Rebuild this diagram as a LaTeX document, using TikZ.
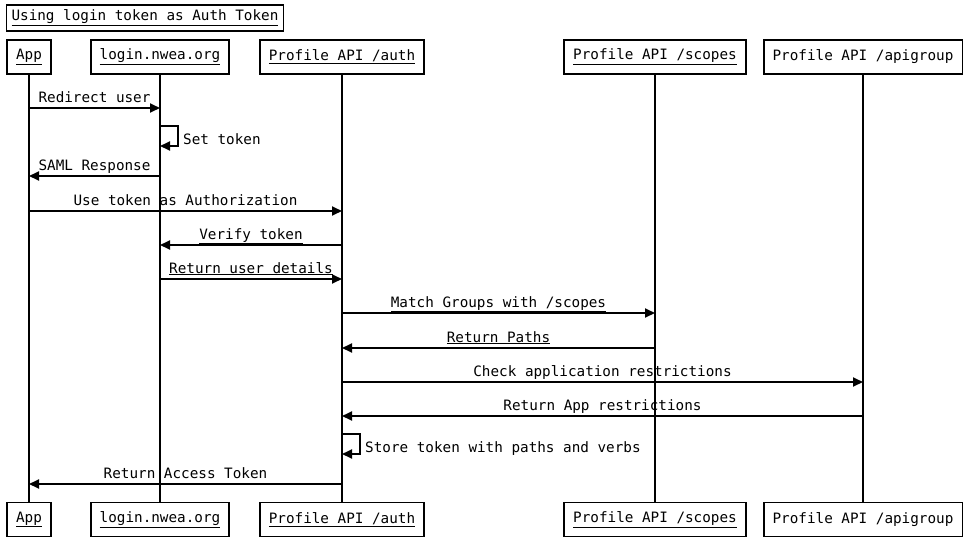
\documentclass[tikz,border=0pt]{standalone}
\usepackage{fontspec}
\setmainfont{DejaVu Sans Mono}
\usetikzlibrary{arrows.meta, positioning}
\tikzset{
  actor/.style={draw, line width=1.8pt, minimum height=34pt, inner xsep=9pt, font=\fontsize{14.3}{16}\selectfont},
  life/.style={line width=1.8pt},
  msg/.style={line width=1.8pt, -{Triangle[length=10pt,width=9pt]}},
  lbl/.style={anchor=base, inner sep=0pt, yshift=6pt, font=\fontsize{14.3}{16}\selectfont},
  selflbl/.style={anchor=base west, inner sep=0pt, font=\fontsize{14.3}{16}\selectfont}
}

\begin{document}
\begin{tikzpicture}[x=1pt, y=-1pt]
\useasboundingbox (0,0) rectangle (975,555);
% title
\node[actor, minimum height=26pt, inner xsep=5pt] (title) at (145,18) {\underline{Using login token as Auth Token}};
% participants, top and bottom
\node[actor] (app) at (29,57) {\underline{App}};
\node[actor] (login) at (160,57) {\underline{login.nwea.org}};
\node[actor] (auth) at (342,57) {\underline{Profile API /auth}};
\node[actor] (scopes) at (655,57) {\underline{Profile API /scopes}};
\node[actor] (apigroup) at (863,57) {Profile API /apigroup};
\node[actor] (appB) at (29,519.5) {\underline{App}};
\node[actor] (loginB) at (160,519.5) {\underline{login.nwea.org}};
\node[actor] (authB) at (342,519.5) {\underline{Profile API /auth}};
\node[actor] (scopesB) at (655,519.5) {\underline{Profile API /scopes}};
\node[actor] (apigroupB) at (863,519.5) {Profile API /apigroup};
% lifelines
\draw[life] (app.south) -- (appB.north);
\draw[life] (login.south) -- (loginB.north);
\draw[life] (auth.south) -- (authB.north);
\draw[life] (scopes.south) -- (scopesB.north);
\draw[life] (apigroup.south) -- (apigroupB.north);
% messages
\draw[msg] (app |- 0,108) -- node[lbl]{Redirect user} (login |- 0,108);
\draw[msg] (login |- 0,126) -- ++(18,0) -- ++(0,20) -- ++(-18,0);
\node[selflbl] (settoken) at (183,144) {Set token};
\draw[msg] (login |- 0,176) -- node[lbl]{SAML Response} (app |- 0,176);
\draw[msg] (app |- 0,211) -- node[lbl]{Use token as Authorization} (auth |- 0,211);
\draw[msg] (auth |- 0,245) -- node[lbl]{\underline{Verify token}} (login |- 0,245);
\draw[msg] (login |- 0,279) -- node[lbl]{\underline{Return user details}} (auth |- 0,279);
\draw[msg] (auth |- 0,313) -- node[lbl]{\underline{Match Groups with /scopes}} (scopes |- 0,313);
\draw[msg] (scopes |- 0,348) -- node[lbl]{\underline{Return Paths}} (auth |- 0,348);
\draw[msg] (auth |- 0,382) -- node[lbl]{Check application restrictions} (apigroup |- 0,382);
\draw[msg] (apigroup |- 0,416) -- node[lbl]{Return App restrictions} (auth |- 0,416);
\draw[msg] (auth |- 0,434) -- ++(18,0) -- ++(0,20) -- ++(-18,0);
\node[selflbl] (store) at (365,452) {Store token with paths and verbs};
\draw[msg] (auth |- 0,484) -- node[lbl]{Return Access Token} (app |- 0,484);
\end{tikzpicture}
\end{document}
